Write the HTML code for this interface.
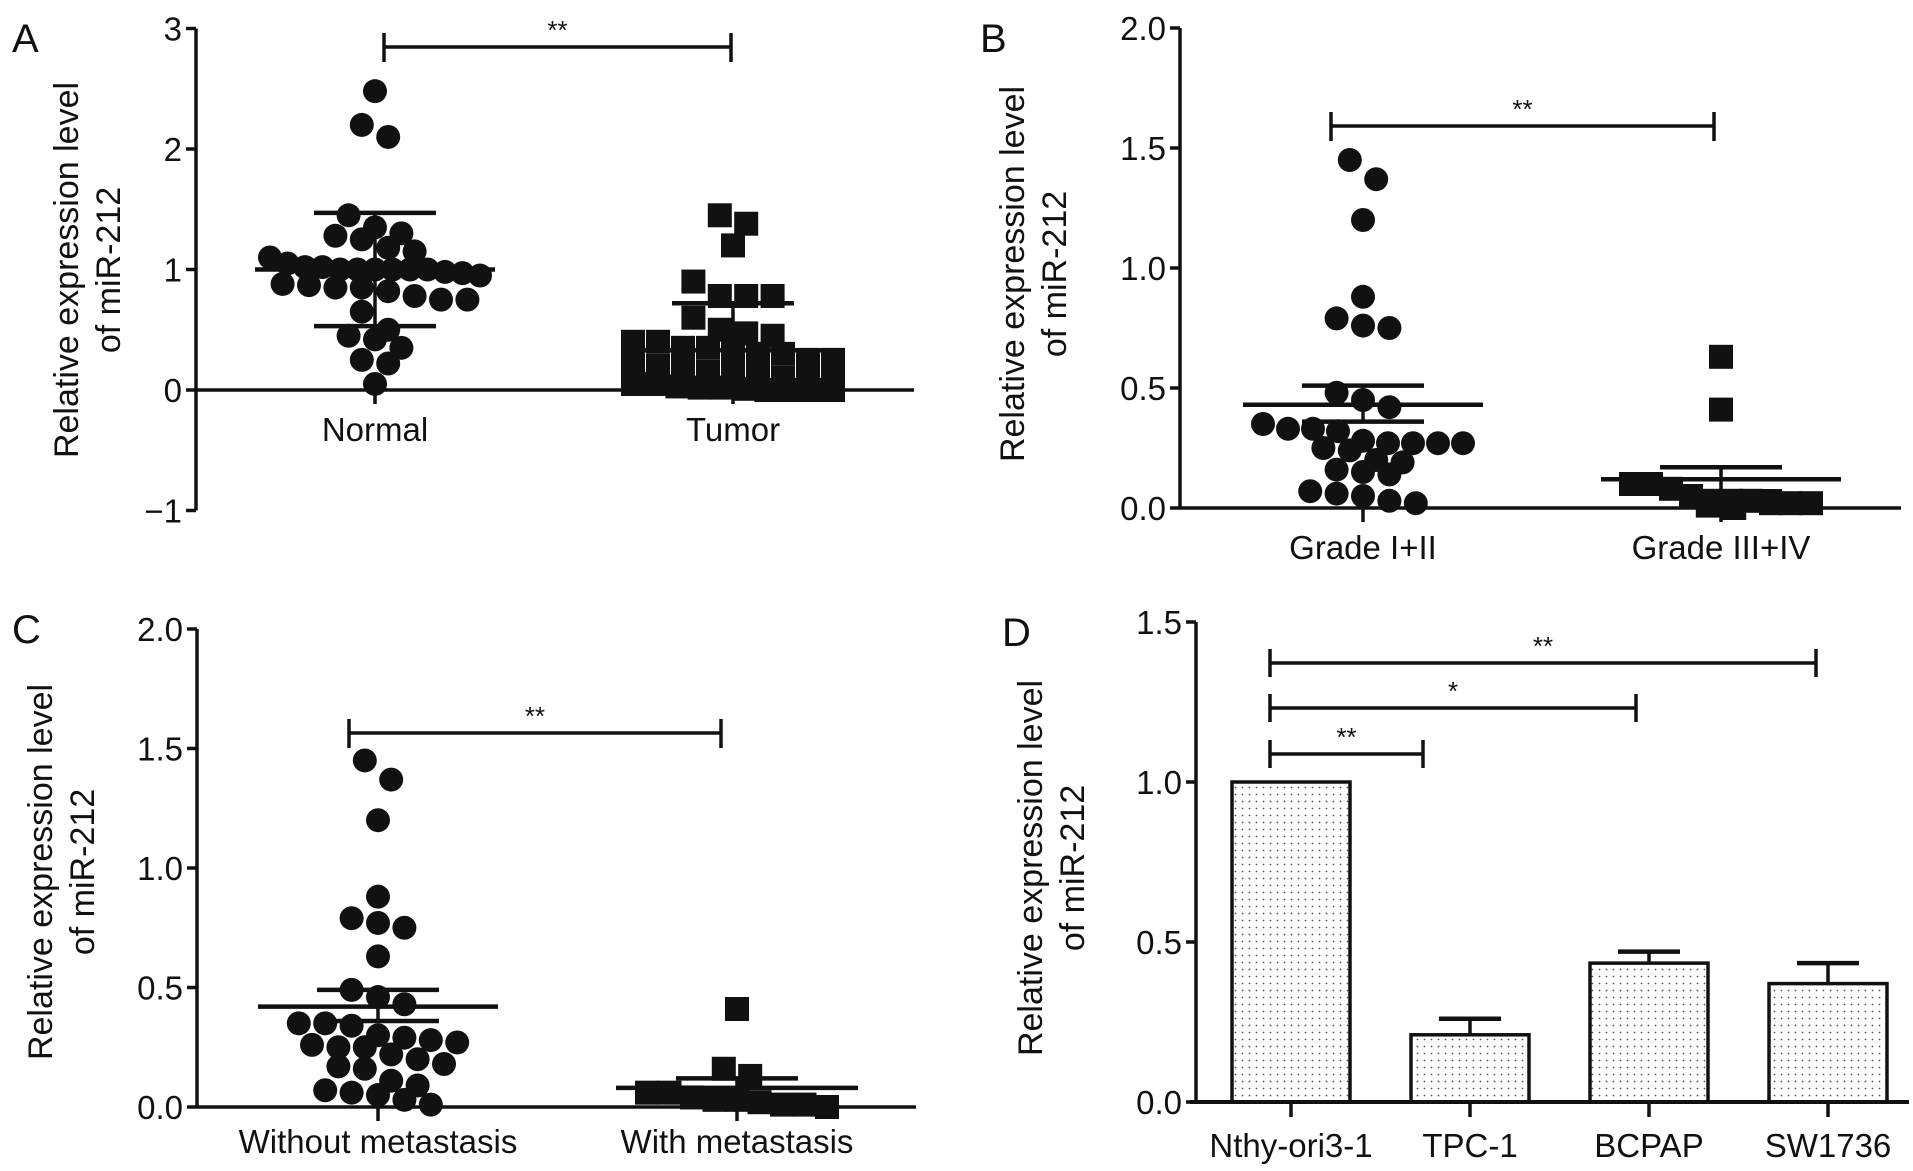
<!DOCTYPE html>
<html><head><meta charset="utf-8"><style>
html,body{margin:0;padding:0;background:#fff}
svg{display:block}
text{font-family:"Liberation Sans",sans-serif;fill:#111}
</style></head><body>
<svg id="fig" width="1913" height="1171" viewBox="0 0 1913 1171" xmlns="http://www.w3.org/2000/svg">
<defs><pattern id="dots" width="7" height="7" patternUnits="userSpaceOnUse"><circle cx="3.5" cy="3.5" r="0.9" fill="#555"/></pattern></defs>
</svg>
<script>
// ---- data ----
const aCategories=["Normal","Tumor"];
const aNormal=[2.48,2.2,2.1,1.45,1.35,1.3,1.28,1.25,1.18,1.15,1.1,1.05,1.02,1.02,1.0,1.0,1.0,1.0,1.0,1.0,0.98,0.97,0.95,0.88,0.87,0.85,0.85,0.82,0.78,0.75,0.75,0.65,0.5,0.45,0.42,0.35,0.25,0.22,0.05];
const aTumor=[1.45,1.38,1.2,0.9,0.78,0.78,0.78,0.6,0.5,0.47,0.45,0.4,0.4,0.35,0.35,0.33,0.3,0.3,0.25,0.25,0.22,0.2,0.2,0.15,0.15,0.12,0.1,0.1,0.08,0.05,0.05,0.03,0.02,0.02,0.01,0,0,0,0];
const aMean=[1.0,0.33]; const aErrHi=[1.47,0.72]; const aErrLo=[0.53,-0.05];
const aTicks=[3,2,1,0,-1]; const aTickLabels=["3","2","1","0","\u22121"];
const bCategories=["Grade I+II","Grade III+IV"];
const bG1=[1.45,1.37,1.2,0.88,0.79,0.75,0.76,0.48,0.45,0.42,0.35,0.33,0.33,0.32,0.28,0.27,0.27,0.27,0.27,0.25,0.24,0.2,0.19,0.15,0.14,0.16,0.07,0.05,0.06,0.02,0.03];
const bG2=[0.63,0.41,0.1,0.1,0.08,0.05,0.03,0.03,0.02,0.02,0.01,0.02,0.03,0.0];
const bMean=[0.43,0.12]; const bErrHi=[0.51,0.17]; const bErrLo=[0.36,0.07];
const cCategories=["Without metastasis","With metastasis"];
const cG1=[1.45,1.37,1.2,0.88,0.79,0.77,0.75,0.63,0.49,0.46,0.43,0.35,0.35,0.34,0.3,0.29,0.28,0.27,0.26,0.25,0.25,0.22,0.2,0.18,0.17,0.16,0.11,0.09,0.07,0.06,0.05,0.03,0.01];
const cG2=[0.41,0.16,0.13,0.06,0.06,0.04,0.03,0.03,0.02,0.01,0.01,0.0];
const cMean=[0.42,0.08]; const cErrHi=[0.49,0.12]; const cErrLo=[0.36,0.04];
const d05Ticks=[2.0,1.5,1.0,0.5,0.0]; const d05Labels=["2.0","1.5","1.0","0.5","0.0"];
const dCategories=["Nthy-ori3-1","TPC-1","BCPAP","SW1736"];
const dValues=[1.0,0.21,0.434,0.37]; const dErr=[0,0.05,0.036,0.064];
const dTicks=[1.5,1.0,0.5,0.0]; const dTickLabels=["1.5","1.0","0.5","0.0"];

const NS="http://www.w3.org/2000/svg", svg=document.getElementById('fig');
const FS=33;
function el(tag,attrs,parent,txt){const e=document.createElementNS(NS,tag);for(const k in attrs)e.setAttribute(k,attrs[k]);if(txt!==undefined)e.textContent=txt;(parent||svg).appendChild(e);return e;}
function line(g,x1,y1,x2,y2,w){return el('line',{x1,y1,x2,y2,stroke:'#111','stroke-width':w||3.5},g);}
function lin(d0,d1,r0,r1){return v=>r0+(v-d0)*(r1-r0)/(d1-d0);}

function title(g,tcx,tcy){
  const tt=el('text',{transform:`translate(${tcx},${tcy}) rotate(-90)`,'text-anchor':'middle','font-size':34},g);
  
  
  el('tspan',{x:0,y:-10},tt,'Relative expression level');
  el('tspan',{x:0,y:32},tt,'of miR-212');
}
function axes(g,ax,y,ticks,labels,x1,tcx,tcy){
  line(g,ax,y(ticks[0]),ax,y(ticks[ticks.length-1]));
  ticks.forEach((t,i)=>{line(g,ax-10,y(t),ax,y(t));
    const tl=el('text',{x:ax-14,y:y(t)+12,'text-anchor':'end','font-size':FS},g,labels[i]);
    
    });
  line(g,ax,y(0),x1,y(0));
  title(g,tcx,tcy);
}
// binned swarm: rows of similar value, spread horizontally with capped width
function swarm(vals,cx,y,d,maxW){
  const order=vals.map((v,i)=>i).sort((a,b)=>vals[b]-vals[a]);
  const rows=[];
  order.forEach(i=>{const py=y(vals[i]);const r=rows[rows.length-1];
    if(r&&Math.abs(py-r.y0)<d*0.8)r.items.push(py);else rows.push({y0:py,items:[py]});});
  const pts=[];
  rows.forEach(r=>{const n=r.items.length;const sp=n>1?Math.min(d*1.1,maxW/(n-1)):0;
    r.items.forEach((py,k)=>pts.push([cx+(k-(n-1)/2)*sp,py]));});
  return pts;
}
function scatterPanel(o){
  const g=el('g',{});
  const pl=el('text',{x:o.lx,y:o.ly,'font-size':40},g,o.letter);
  
  axes(g,o.ax,o.y,o.ticks,o.labels,o.xend,o.tcx,o.tcy);
  o.groups.forEach((vals,gi)=>{
    const cx=o.cx[gi];
    line(g,cx,o.y(0),cx,o.y(0)+14);
    const pts=swarm(vals,cx,o.y,24,o.spread[gi]);
    pts.forEach(p=>{let m;
      if(gi===0){m=el('circle',{cx:p[0],cy:p[1],r:12,fill:'#111'},g);}
      else{m=el('rect',{x:p[0]-12,y:p[1]-12,width:24,height:24,fill:'#111'},g);}
      
      });
    line(g,cx-o.mw[gi],o.y(o.mean[gi]),cx+o.mw[gi],o.y(o.mean[gi]),4.5);
    line(g,cx,o.y(o.hi[gi]),cx,o.y(o.lo[gi]),3.5);
    line(g,cx-61,o.y(o.hi[gi]),cx+61,o.y(o.hi[gi]),4.5);
    line(g,cx-61,o.y(o.lo[gi]),cx+61,o.y(o.lo[gi]),4.5);
    const cl=el('text',{x:cx,y:o.cly,'text-anchor':'middle','font-size':FS},g,o.cats[gi]);
    
  });
  const s=o.sig;line(g,s.x1,s.y,s.x2,s.y);line(g,s.x1,s.y-14,s.x1,s.y+15);line(g,s.x2,s.y-14,s.x2,s.y+15);
  const st=el('text',{x:(s.x1+s.x2)/2,y:s.y-8,'text-anchor':'middle','font-size':26},g,'**');
  
}
scatterPanel({name:'panel-a',letter:'A',lx:12,ly:52,ax:196,xend:914,y:lin(0,1,390,269.5),ticks:aTicks,labels:aTickLabels,
  tcx:88,tcy:270,groups:[aNormal,aTumor],cx:[375,733],mean:aMean,hi:aErrHi,lo:aErrLo,mw:[120,111],spread:[210,200],cats:aCategories,cly:441,
  sig:{x1:384,x2:731,y:47}});
scatterPanel({name:'panel-b',letter:'B',lx:980,ly:52,ax:1180,xend:1901,y:lin(0,1,508,268),ticks:d05Ticks,labels:d05Labels,
  tcx:1034,tcy:274,groups:[bG1,bG2],cx:[1363,1721],mean:bMean,hi:bErrHi,lo:bErrLo,mw:[120,120],spread:[200,180],cats:bCategories,cly:559,
  sig:{x1:1331,x2:1714,y:126}});
scatterPanel({name:'panel-c',letter:'C',lx:12,ly:643,ax:197,xend:916,y:lin(0,1,1107,868),ticks:d05Ticks,labels:d05Labels,
  tcx:62,tcy:872,groups:[cG1,cG2],cx:[378,737],mean:cMean,hi:cErrHi,lo:cErrLo,mw:[120,121],spread:[200,180],cats:cCategories,cly:1153,
  sig:{x1:349,x2:721,y:733}});

// Panel D bar chart
(function(){
  const g=el('g',{});
  const pl=el('text',{x:1002,y:646,'font-size':40},g,'D');
  
  const y=lin(0,1,1102,782), ax=1196;
  const cx=i=>1291+i*179, bw=118;
  dValues.forEach((v,i)=>{
    if(dErr[i]>0){line(g,cx(i),y(v),cx(i),y(v+dErr[i]));line(g,cx(i)-31,y(v+dErr[i]),cx(i)+31,y(v+dErr[i]),4.5);}
    const r=el('rect',{x:cx(i)-bw/2,y:y(v),width:bw,height:y(0)-y(v),fill:'url(#dots)',stroke:'#111','stroke-width':3.5},g);
    
    
    line(g,cx(i),y(0),cx(i),y(0)+15);
    const cl=el('text',{x:cx(i),y:1157,'text-anchor':'middle','font-size':FS},g,dCategories[i]);
    
  });
  line(g,ax,y(1.5),ax,y(0));
  dTicks.forEach((t,i)=>{line(g,ax-10,y(t),ax,y(t));
    const tl=el('text',{x:ax-14,y:y(t)+12,'text-anchor':'end','font-size':FS},g,dTickLabels[i]);
    });
  line(g,1190,y(0),1909,y(0),4);
  title(g,1052,868);
  const sigs=[[1423,754,'**'],[1636,708,'*'],[1816,663,'**']];
  sigs.forEach(s=>{const x1=1270,x2=s[0];
    line(g,x1,s[1],x2,s[1]);line(g,x1,s[1]-14,x1,s[1]+14);line(g,x2,s[1]-14,x2,s[1]+14);
    const st=el('text',{x:(x1+x2)/2,y:s[1]-8,'text-anchor':'middle','font-size':26},g,s[2]);
    });
})();
</script>
</body></html>
